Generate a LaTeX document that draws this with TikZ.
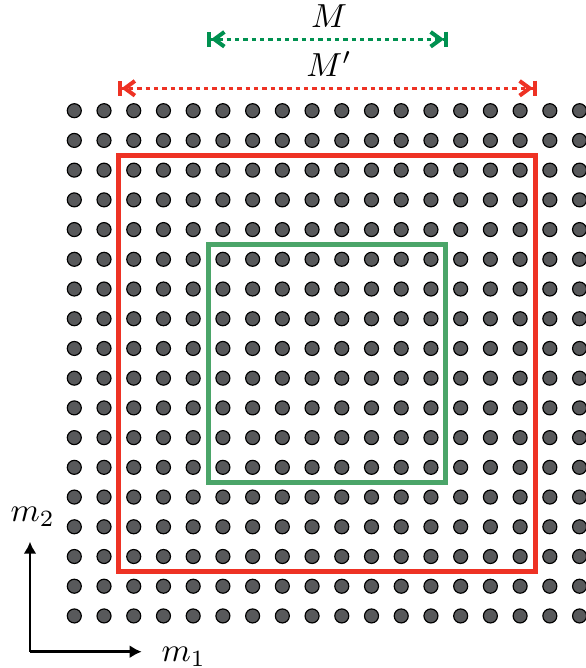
\documentclass[tikz,border=0pt]{standalone}
\usetikzlibrary{arrows.meta}
\definecolor{dotgray}{RGB}{88,89,91}
\definecolor{boxred}{RGB}{238,50,36}
\definecolor{boxgreen}{RGB}{75,165,105}
\definecolor{arrgreen}{RGB}{0,145,80}
\tikzset{
  dot/.style={circle,draw=black,fill=dotgray,minimum size=4.2pt,inner sep=0pt,line width=0.35pt},
  frame/.style={line width=1.5pt},
  measure/.style={line width=1pt,dash pattern=on 1.3pt off 1.2pt,
    {Bar[width=4.6pt,line width=1.2pt]Straight Barb[length=3pt,width=4.4pt,line width=1.2pt]}-{Straight Barb[length=3pt,width=4.4pt,line width=1.2pt]Bar[width=4.6pt,line width=1.2pt]}},
  axis/.style={line width=0.8pt,-{Latex[length=3.6pt,width=3.9pt]}},
  lbl/.style={inner sep=0pt,anchor=base}
}
\begin{document}
\begin{tikzpicture}[x=0.3pt,y=-0.3pt]
\useasboundingbox (0,0) rectangle (586,668);
% grid of dots
\foreach \i in {0,...,17}{
  \foreach \j in {0,...,17}{
    \node[dot] (d\i-\j) at ({74.3+29.72*\i},{110.7+29.72*\j}) {};
  }
}
% frames
\coordinate (r1) at (118.9,155.3);
\coordinate (r2) at (535.0,571.4);
\coordinate (g1) at (208.0,244.4);
\coordinate (g2) at (445.8,482.2);
\draw[frame,boxred] (r1) rectangle (r2);
\draw[frame,boxgreen] (g1) rectangle (g2);
% measures
\coordinate (ga) at (207,39.3);
\coordinate (gb) at (448,39.3);
\coordinate (ra) at (117.5,88.3);
\coordinate (rb) at (537,88.3);
\draw[measure,arrgreen] (ga) -- (gb);
\draw[measure,boxred] (ra) -- (rb);
\node[lbl] (lM) at (329,27.5) {$M$};
\node[lbl] (lMp) at (329,76.5) {$M'$};
% axes
\coordinate (o) at (30,651.7);
\coordinate (ytip) at (30,541.7);
\coordinate (xtip) at (141.7,651.7);
\draw[axis] (o) -- (ytip);
\draw[axis] (o) -- (xtip);
\node[inner sep=0pt,anchor=base west] (m2) at (10,521.7) {$m_2$};
\node[inner sep=0pt,anchor=base west] (m1) at (161,661.7) {$m_1$};
\end{tikzpicture}
\end{document}
